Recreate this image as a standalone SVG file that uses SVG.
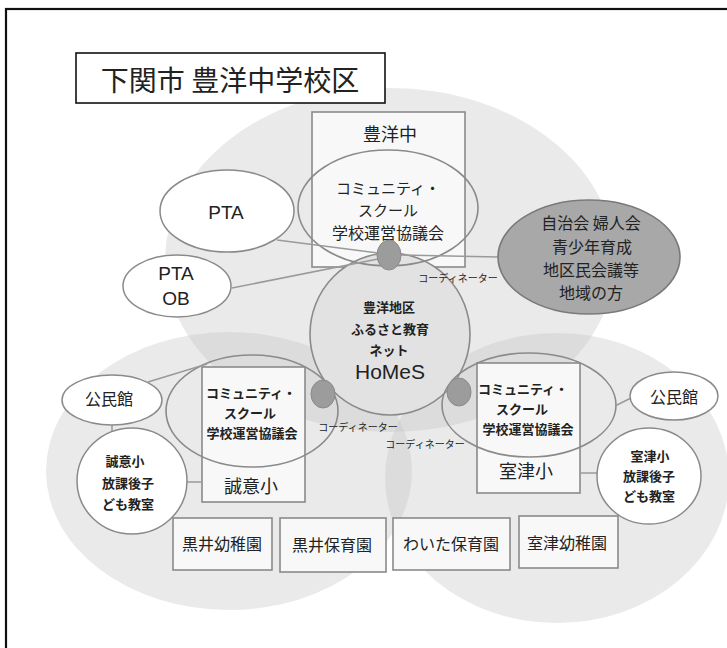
<svg xmlns="http://www.w3.org/2000/svg" width="727" height="648" viewBox="0 0 727 648">
<style>
.area{fill:#c4c4c4;fill-opacity:0.36;stroke:none}
.box{fill:#f8f8f8;stroke:#8a8a8a;stroke-width:1.6}
.cs{fill:none;stroke:#8a8a8a;stroke-width:1.6}
.wh{fill:#ffffff;stroke:#8a8a8a;stroke-width:1.5}
.dot{fill:#9c9c9c;stroke:#8a8a8a;stroke-width:1}
.t{font-family:"Noto Sans CJK JP","Noto Sans",sans-serif;fill:#222;text-anchor:middle;dominant-baseline:central}
.b{font-weight:bold}
.lat{font-family:"Liberation Sans",Arial,sans-serif;fill:#222;text-anchor:middle;dominant-baseline:central}
.conn line{stroke:#9a9a9a;stroke-width:1.5}
</style>
<rect x="0" y="0" width="727" height="648" fill="#ffffff"/>
<rect x="6" y="9" width="760" height="680" fill="none" stroke="#111" stroke-width="2.2"/>
<g id="areas">
<ellipse class="area" cx="390" cy="260" rx="225" ry="172"/>
<ellipse class="area" cx="229" cy="471" rx="183" ry="139"/>
<ellipse class="area" cx="557" cy="478" rx="172" ry="145"/>
</g>
<g id="title">
<rect x="76" y="53" width="309" height="50" fill="#fff" stroke="#111" stroke-width="1.6"/>
<text class="t" x="230" y="79" font-size="28">下関市 豊洋中学校区</text>
</g>
<g id="toyochu">
<rect class="box" x="312" y="112" width="153" height="155"/>
<text class="t" x="390" y="133" font-size="18">豊洋中</text>
</g>
<g id="seiisho">
<rect class="box" x="202" y="367" width="103" height="135"/>
<text class="t" x="251" y="485" font-size="18">誠意小</text>
</g>
<g id="murotsusho">
<rect class="box" x="477" y="363" width="103" height="130"/>
<text class="t" x="526" y="470" font-size="18">室津小</text>
</g>
<g id="homes">
<ellipse cx="390" cy="334" rx="80" ry="81" fill="#e2e2e2" stroke="#8a8a8a" stroke-width="1.6"/>
<text class="t b" x="389" y="306" font-size="13">豊洋地区</text>
<text class="t b" x="390" y="328" font-size="13">ふるさと教育</text>
<text class="t b" x="389" y="349" font-size="13">ネット</text>
<text class="lat" x="390" y="371" font-size="21">HoMeS</text>
</g>
<g id="cs-top">
<ellipse class="cs" cx="388" cy="208" rx="90" ry="58"/>
<text class="t" x="388" y="187" font-size="15">コミュニティ・</text>
<text class="t" x="388" y="209" font-size="15">スクール</text>
<text class="t" x="388" y="232" font-size="16">学校運営協議会</text>
</g>
<g id="cs-left">
<ellipse class="cs" cx="252" cy="411" rx="86" ry="56"/>
<text class="t b" x="251" y="392" font-size="13">コミュニティ・</text>
<text class="t b" x="250" y="412" font-size="13">スクール</text>
<text class="t b" x="252" y="432" font-size="13">学校運営協議会</text>
</g>
<g id="cs-right">
<ellipse class="cs" cx="529" cy="405" rx="87" ry="52"/>
<text class="t b" x="523" y="388" font-size="13">コミュニティ・</text>
<text class="t b" x="522" y="408" font-size="13">スクール</text>
<text class="t b" x="528" y="428" font-size="13">学校運営協議会</text>
</g>
<g class="conn" id="connectors">
<line x1="277" y1="240" x2="378" y2="253"/>
<line x1="232" y1="288" x2="378" y2="259"/>
<line x1="401" y1="255" x2="498" y2="257"/>
<line x1="148" y1="382" x2="207" y2="364"/>
<line x1="112" y1="425" x2="112" y2="432"/>
<line x1="186" y1="482" x2="202" y2="482"/>
<line x1="615" y1="406" x2="633" y2="397"/>
<line x1="580" y1="473" x2="597" y2="473"/>
</g>
<g id="coord-top">
<ellipse class="dot" cx="389" cy="255" rx="12" ry="15"/>
<text class="t" x="458" y="277" font-size="10">コーディネーター</text>
</g>
<g id="coord-left">
<ellipse class="dot" cx="323" cy="394" rx="12" ry="14"/>
<text class="t" x="358" y="426" font-size="10">コーディネーター</text>
</g>
<g id="coord-right">
<ellipse class="dot" cx="459" cy="392" rx="12" ry="14"/>
<text class="t" x="425" y="443" font-size="10">コーディネーター</text>
</g>
<g id="pta">
<ellipse class="wh" cx="227" cy="211" rx="67" ry="41"/>
<text class="lat" x="226" y="212" font-size="19">PTA</text>
</g>
<g id="pta-ob">
<ellipse class="wh" cx="177" cy="286" rx="54" ry="31"/>
<text class="lat" x="176" y="273" font-size="19">PTA</text>
<text class="lat" x="176" y="298" font-size="19">OB</text>
</g>
<g id="community">
<ellipse cx="589" cy="257" rx="91" ry="57" fill="#a8a8a8" stroke="#7a7a7a" stroke-width="1.6"/>
<text class="t" x="591" y="222" font-size="16">自治会 婦人会</text>
<text class="t" x="592" y="246" font-size="16">青少年育成</text>
<text class="t" x="591" y="269" font-size="16">地区民会議等</text>
<text class="t" x="591" y="292" font-size="16">地域の方</text>
</g>
<g id="kominkan-left">
<ellipse class="wh" cx="112" cy="400" rx="50" ry="25"/>
<text class="t" x="109" y="398" font-size="16">公民館</text>
</g>
<g id="kominkan-right">
<ellipse class="wh" cx="674" cy="396" rx="44" ry="24"/>
<text class="t" x="674" y="396" font-size="16">公民館</text>
</g>
<g id="houkago-left">
<ellipse class="wh" cx="132" cy="481" rx="55" ry="53"/>
<text class="t b" x="125" y="460" font-size="13">誠意小</text>
<text class="t b" x="128" y="482" font-size="13">放課後子</text>
<text class="t b" x="128" y="503" font-size="13">ども教室</text>
</g>
<g id="houkago-right">
<ellipse class="wh" cx="649" cy="476" rx="52" ry="48"/>
<text class="t b" x="650" y="455" font-size="13">室津小</text>
<text class="t b" x="649" y="475" font-size="13">放課後子</text>
<text class="t b" x="649" y="495" font-size="13">ども教室</text>
</g>
<g id="kuroi-youchien">
<rect class="box" x="173" y="518" width="99" height="52"/>
<text class="t" x="222" y="543" font-size="16">黒井幼稚園</text>
</g>
<g id="kuroi-hoikuen">
<rect class="box" x="280" y="518" width="106" height="54"/>
<text class="t" x="332" y="544" font-size="16">黒井保育園</text>
</g>
<g id="waita-hoikuen">
<rect class="box" x="393" y="518" width="117" height="52"/>
<text class="t" x="451" y="543" font-size="16">わいた保育園</text>
</g>
<g id="murotsu-youchien">
<rect class="box" x="519" y="516" width="99" height="52"/>
<text class="t" x="567" y="542" font-size="16">室津幼稚園</text>
</g>
</svg>
